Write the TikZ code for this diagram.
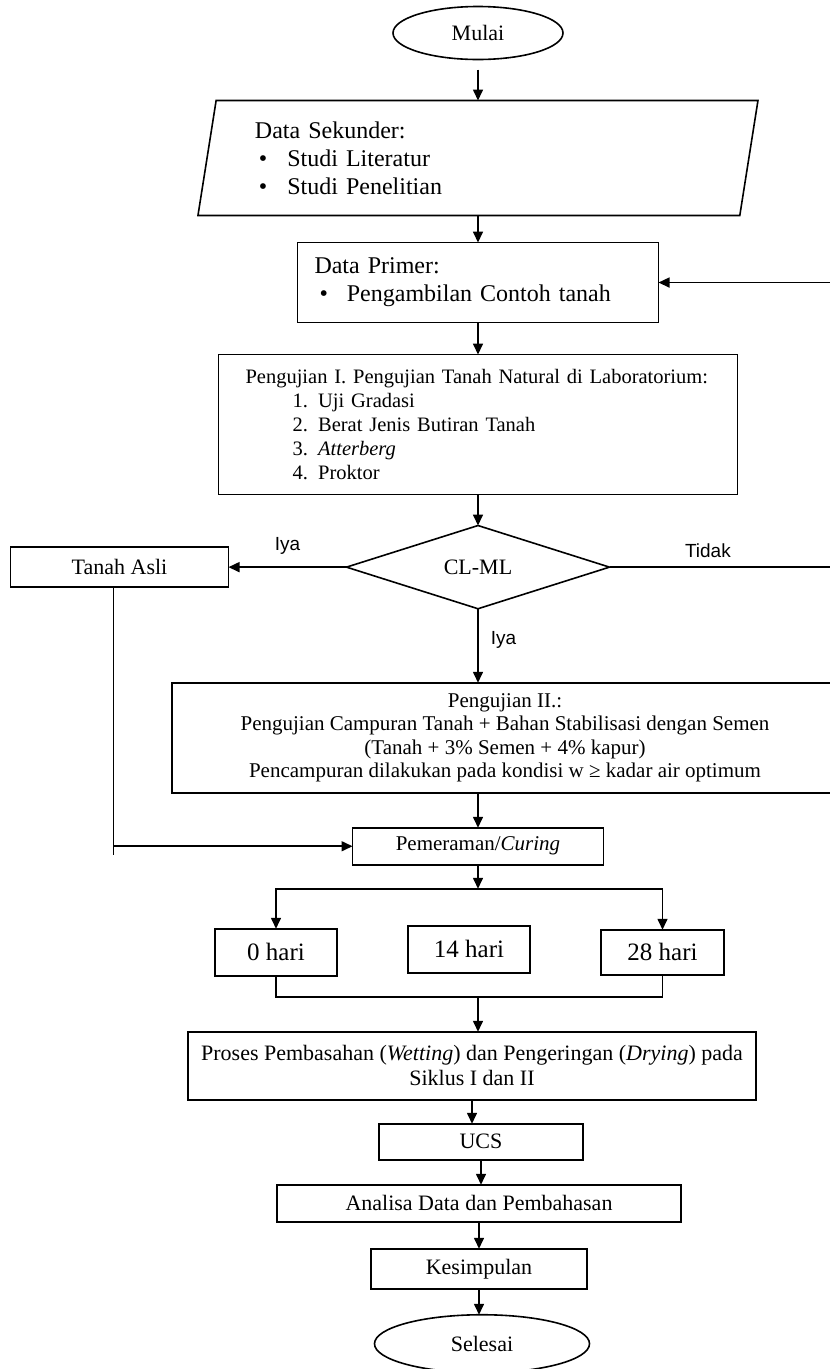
\documentclass[tikz,border=0pt]{standalone}
\usepackage{fontspec}
\setmainfont{Liberation Serif}
\newfontfamily\answersans{Liberation Sans}
\usepackage{tikz}
\usetikzlibrary{arrows.meta,positioning,shapes.geometric}
\tikzset{
  termnode/.style={
    ellipse, draw, line width=1.6pt,
    minimum width=#1, minimum height=53pt,
    font=\fontsize{22pt}{25pt}\selectfont, inner sep=0pt, outer sep=0pt
  },
  termnode/.default=170pt,
  stepbox/.style={
    rectangle, draw, line width=1.6pt,
    font=\fontsize{22pt}{25pt}\selectfont, align=center,
    inner sep=0pt, outer sep=0pt
  },
  iobox/.style={
    trapezium, trapezium left angle=76, trapezium right angle=104,
    trapezium stretches body, draw, line width=1.6pt,
    font=\fontsize{24pt}{28pt}\selectfont, align=left,
    inner sep=0pt, outer sep=0pt
  },
  decision/.style={
    diamond, draw, line width=1.6pt,
    font=\fontsize{22pt}{25pt}\selectfont, inner sep=0pt, outer sep=0pt
  },
  flowarrow/.style={
    -{Triangle[length=11pt,width=10pt]}, line width=1.6pt
  },
  flowline/.style={line width=1.6pt},
  answer/.style={font=\answersans\fontsize{19pt}{21pt}\selectfont, inner sep=4pt},
}

\begin{document}
\begin{tikzpicture}[x=1pt, y=1pt, node distance=30pt]
\useasboundingbox (0,0) rectangle (830,-1369);
\node[termnode] (mulai) at (478,-33) {Mulai};
\node[iobox, minimum width=560pt, minimum height=115pt, text width=446pt,
  below=41pt of mulai] (sekunder)
  {Data Sekunder:\\
   \hspace*{4pt}\textbullet\hspace{20pt}Studi Literatur\\
   \hspace*{4pt}\textbullet\hspace{20pt}Studi Penelitian};
\node[stepbox, minimum width=361pt, minimum height=80pt, text width=327pt,
  align=left, font=\fontsize{24pt}{28pt}\selectfont,
  below=27pt of sekunder] (primer)
  {Data Primer:\\
   \hspace*{5pt}\textbullet\hspace{19pt}Pengambilan Contoh tanah};
\node[stepbox, minimum width=519pt, minimum height=140pt, text width=465pt,
  align=left, font=\fontsize{20.5pt}{24pt}\selectfont,
  below=32pt of primer] (uji1)
  {Pengujian I. Pengujian Tanah Natural di Laboratorium:\\
   \hspace*{47pt}1. Uji Gradasi\\
   \hspace*{47pt}2. Berat Jenis Butiran Tanah\\
   \hspace*{47pt}3. \textit{Atterberg}\\
   \hspace*{47pt}4. Proktor};
\node[decision, minimum width=263pt, minimum height=81pt,
  below=31pt of uji1] (cek) {CL-ML};
\node[stepbox, minimum width=218pt, minimum height=40pt,
  left=118pt of cek] (asli) {Tanah Asli};
\node[stepbox, minimum width=666pt, minimum height=110pt,
  font=\fontsize{21pt}{23.5pt}\selectfont,
  below=74pt of cek, xshift=27pt] (uji2)
  {Pengujian II.:\\
   Pengujian Campuran Tanah + Bahan Stabilisasi dengan Semen\\
   (Tanah + 3\% Semen + 4\% kapur)\\
   Pencampuran dilakukan pada kondisi w ≥ kadar air optimum};
\node[stepbox, minimum width=251pt, minimum height=37pt,
  font=\fontsize{21pt}{24pt}\selectfont,
  below=35pt of uji2, xshift=-27pt] (cure) {Pemeraman/\textit{Curing}};
\coordinate[below=24pt of cure] (split);
\node[stepbox, minimum width=122pt, minimum height=47pt,
  font=\fontsize{25pt}{28pt}\selectfont,
  below=37pt of split, xshift=-9pt] (h14) {14 hari};
\node[stepbox, minimum width=122pt, minimum height=47pt,
  font=\fontsize{25pt}{28pt}\selectfont,
  left=71pt of h14, yshift=-3pt] (h0) {0 hari};
\node[stepbox, minimum width=123pt, minimum height=45pt,
  font=\fontsize{25pt}{28pt}\selectfont,
  right=71pt of h14, yshift=-3pt] (h28) {28 hari};
\coordinate[below=108pt of split] (join);
\node[stepbox, minimum width=568pt, minimum height=68pt,
  below=35pt of join, xshift=-6pt] (proses)
  {Proses Pembasahan (\textit{Wetting}) dan Pengeringan (\textit{Drying}) pada\\
   Siklus I dan II};
\node[stepbox, minimum width=204pt, minimum height=36pt,
  below=24pt of proses, xshift=9pt] (ucs) {UCS};
\node[stepbox, minimum width=404pt, minimum height=37pt,
  below=25pt of ucs, xshift=-2pt] (analisa) {Analisa Data dan Pembahasan};
\node[stepbox, minimum width=216pt, minimum height=40pt,
  below=27pt of analisa] (simpul) {Kesimpulan};
\node[termnode=215pt, minimum height=58pt,
  below=26pt of simpul, xshift=3pt] (selesai) {Selesai};

\draw[flowarrow] ([yshift=-10pt]mulai.south) -- (mulai.south |- sekunder.north);
\draw[flowarrow] (sekunder.south) -- (sekunder.south |- primer.north);
\draw[flowarrow] (primer.south) -- (primer.south |- uji1.north);
\draw[flowarrow] (uji1.south) -- (uji1.south |- cek.north);
\draw[flowarrow] (cek.west) -- node[answer, above=8pt]{Iya} (asli.east);
\draw[flowarrow] (cek.east) -- node[answer, above=5pt, pos=0.41]{Tidak} ++(240,0)
  |- (primer.east);
\draw[flowarrow] (cek.south) -- node[answer, right=8pt, pos=0.42]{Iya}
  (cek.south |- uji2.north);
\draw[flowarrow] (cure.north |- uji2.south) -- (cure.north);
\draw[flowline] ([xshift=-6pt]asli.south) -- ([xshift=-6pt,yshift=-9pt]asli.south |- cure.west);
\draw[flowarrow] ([xshift=-6pt]asli.south |- cure.west) -- (cure.west);
\draw[flowarrow] (cure.south) -- (split);
\draw[flowarrow] (split) -| (h0.north);
\draw[flowarrow] (split) -| (h28.north);
\draw[flowline] (h0.south) |- (join) -| (h28.south);
\draw[flowarrow] (join) -- (join |- proses.north);
\draw[flowarrow] (proses.south) -- (proses.south |- ucs.north);
\draw[flowarrow] (ucs.south) -- (ucs.south |- analisa.north);
\draw[flowarrow] (analisa.south) -- (analisa.south |- simpul.north);
\draw[flowarrow] (simpul.south) -- (simpul.south |- selesai.north);
\end{tikzpicture}
\end{document}
